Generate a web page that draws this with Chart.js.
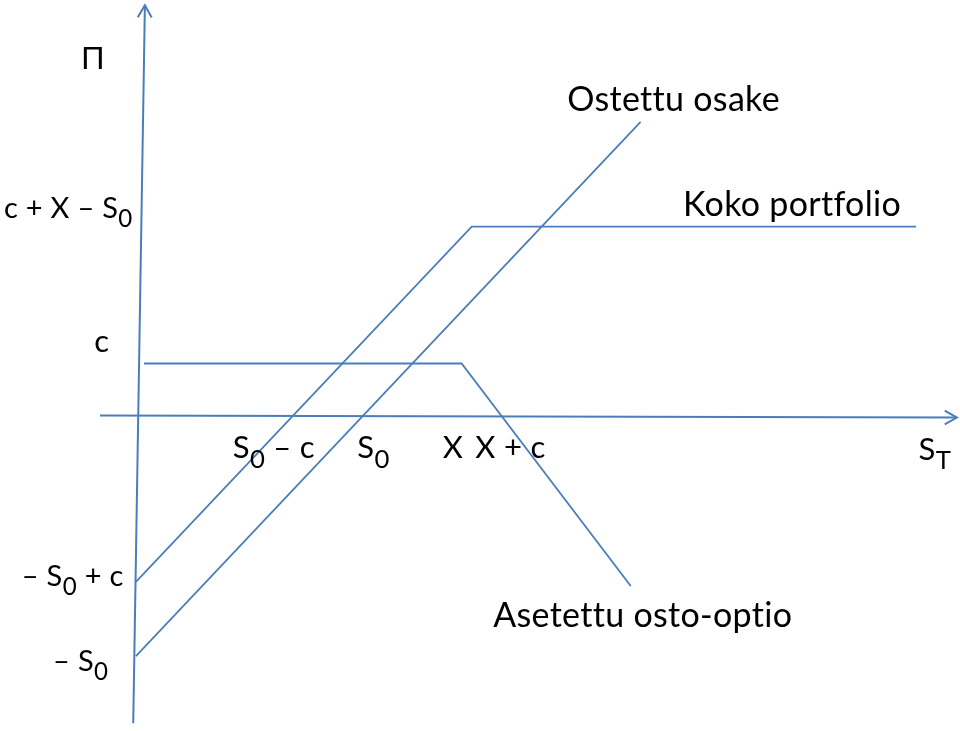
<!DOCTYPE html>
<html>
<head>
<meta charset="utf-8">
<script src="https://cdn.jsdelivr.net/npm/chart.js@4"></script>
<style>
  html, body { margin: 0; padding: 0; background: #fff; }
  #wrap { width: 960px; height: 731px; }
</style>
</head>
<body>
<div id="wrap"><canvas id="payoff"></canvas></div>
<script>
// arvot luettu kuvasta (x = S_T, y = Π, S0 ~ 100)
const axisHoriz = [[-17.4, 0], [364.6, -0.9]];
const axisVert = [[-2.6, -137.2], [2.6, 183.0]];
const osake = [[-1.4, -107.3], [223.6, 131.0]];
const portfolio = [[-1.4, -74.2], [148.3, 84.2], [346.4, 84.2]];
const optio = [[2.2, 23.2], [143.8, 23.2], [219.2, -76.0]];

const seriesNames = ["Ostettu osake", "Koko portfolio", "Asetettu osto-optio"];

// akselien merkinnät, "_" = alaindeksi
const xTickLabels = ["S_0 – c", "S_0", "X", "X + c"];
const xTickValues = [60.1, 104.5, 139.9, 165.6];
const yTickLabels = ["c + X – S_0", "c", "– S_0 + c", "– S_0"];
const yTickValues = [92.5, 32.8, -71.6, -109.5];
const xAxisTitle = "S_T";
const yAxisTitle = "Π";

const BLUE = "#4a7ebb";
const FONT = 'Lato, "Noto Sans", sans-serif';

const pts = arr => arr.map(p => ({ x: p[0], y: p[1] }));

function richText(ctx, str, x, y, size, align) {
  const segs = [];
  for (let i = 0; i < str.length; i++) {
    if (str[i] === "_") { segs.push({ t: str[i + 1], sub: true }); i++; }
    else if (segs.length && !segs[segs.length - 1].sub) segs[segs.length - 1].t += str[i];
    else segs.push({ t: str[i], sub: false });
  }
  const subSize = size * 0.83;
  // ei ligatuureja (tt, tf)
  ctx.letterSpacing = "0.3px";
  let w = 0;
  segs.forEach(s => {
    ctx.font = (s.sub ? subSize : size) + "px " + FONT;
    s.w = ctx.measureText(s.t).width;
    w += s.w;
  });
  let cx = align === "right" ? x - w : align === "center" ? x - w / 2 : x;
  ctx.textAlign = "left";
  ctx.textBaseline = "alphabetic";
  segs.forEach(s => {
    ctx.font = (s.sub ? subSize : size) + "px " + FONT;
    ctx.fillText(s.t, cx, s.sub ? y + size * 0.32 : y);
    cx += s.w;
  });
}

const overlay = {
  id: "overlay",
  afterDatasetsDraw(chart, args, opts) {
    const ctx = chart.ctx;
    const xs = chart.scales.x, ys = chart.scales.y;
    const P = p => ({ x: xs.getPixelForValue(p[0]), y: ys.getPixelForValue(p[1]) });
    ctx.save();

    // nuolenkärjet
    ctx.strokeStyle = BLUE;
    ctx.lineWidth = 2;
    [axisHoriz, axisVert].forEach(line => {
      const a = P(line[0]), b = P(line[line.length - 1]);
      const ang = Math.atan2(b.y - a.y, b.x - a.x);
      ctx.beginPath();
      ctx.moveTo(b.x - 14 * Math.cos(ang - 0.52), b.y - 14 * Math.sin(ang - 0.52));
      ctx.lineTo(b.x, b.y);
      ctx.lineTo(b.x - 14 * Math.cos(ang + 0.52), b.y - 14 * Math.sin(ang + 0.52));
      ctx.stroke();
    });

    ctx.fillStyle = "#000";
    const h0 = P(axisHoriz[0]), h1 = P(axisHoriz[1]);
    const v0 = P(axisVert[0]), v1 = P(axisVert[1]);
    const hAt = px => h0.y + (px - h0.x) * (h1.y - h0.y) / (h1.x - h0.x);
    const vAt = py => v0.x + (py - v0.y) * (v1.x - v0.x) / (v1.y - v0.y);

    // x-akselin merkinnät
    xTickLabels.forEach((t, i) => {
      const px = xs.getPixelForValue(xTickValues[i]);
      richText(ctx, t, px, hAt(px) + opts.xLabelGap, opts.xSize, "center");
    });
    richText(ctx, xAxisTitle, h1.x - 22, h1.y + opts.xLabelGap, opts.xSize, "center");

    // y-akselin merkinnät
    yTickLabels.forEach((t, i) => {
      const size = opts.ySizes[i];
      const py = ys.getPixelForValue(yTickValues[i]);
      richText(ctx, t, vAt(py) - opts.yGaps[i], py + size * 0.34, size, "right");
    });
    richText(ctx, yAxisTitle, v1.x - 52, v1.y + 64, 31, "center");

    // sarjojen nimet käyrien päiden lähelle
    opts.names.forEach(n => {
      const ds = chart.data.datasets[n.ds].data;
      const end = ds[ds.length - 1];
      const px = xs.getPixelForValue(end.x), py = ys.getPixelForValue(end.y);
      richText(ctx, seriesNames[n.i], px + n.dx, py + n.dy, opts.nameSize, "center");
    });
    ctx.restore();
  }
};

const line = (data, w) => ({
  data: pts(data),
  showLine: true,
  borderColor: BLUE,
  borderWidth: w,
  pointRadius: 0,
  fill: false,
  tension: 0
});

new Chart(document.getElementById("payoff"), {
  type: "scatter",
  data: {
    datasets: [
      line(axisHoriz, 2),
      line(axisVert, 2),
      line(osake, 1.8),
      line(portfolio, 1.8),
      line(optio, 1.8)
    ]
  },
  options: {
    responsive: true,
    maintainAspectRatio: false,
    animation: false,
    layout: { padding: 0 },
    scales: {
      x: { type: "linear", display: false, min: -62, max: 366 },
      y: { type: "linear", display: false, min: -140.7, max: 185.3 }
    },
    plugins: {
      legend: { display: false },
      tooltip: { enabled: false },
      overlay: {
        xSize: 31,
        xLabelGap: 42,
        ySizes: [29, 31, 29, 29],
        yGaps: [9, 30, 12, 26],
        nameSize: 34,
        names: [
          { ds: 2, i: 0, dx: 33, dy: -11 },
          { ds: 3, i: 1, dx: -124, dy: -11 },
          { ds: 4, i: 2, dx: 12, dy: 41 }
        ]
      }
    }
  },
  plugins: [overlay]
});
</script>
</body>
</html>
